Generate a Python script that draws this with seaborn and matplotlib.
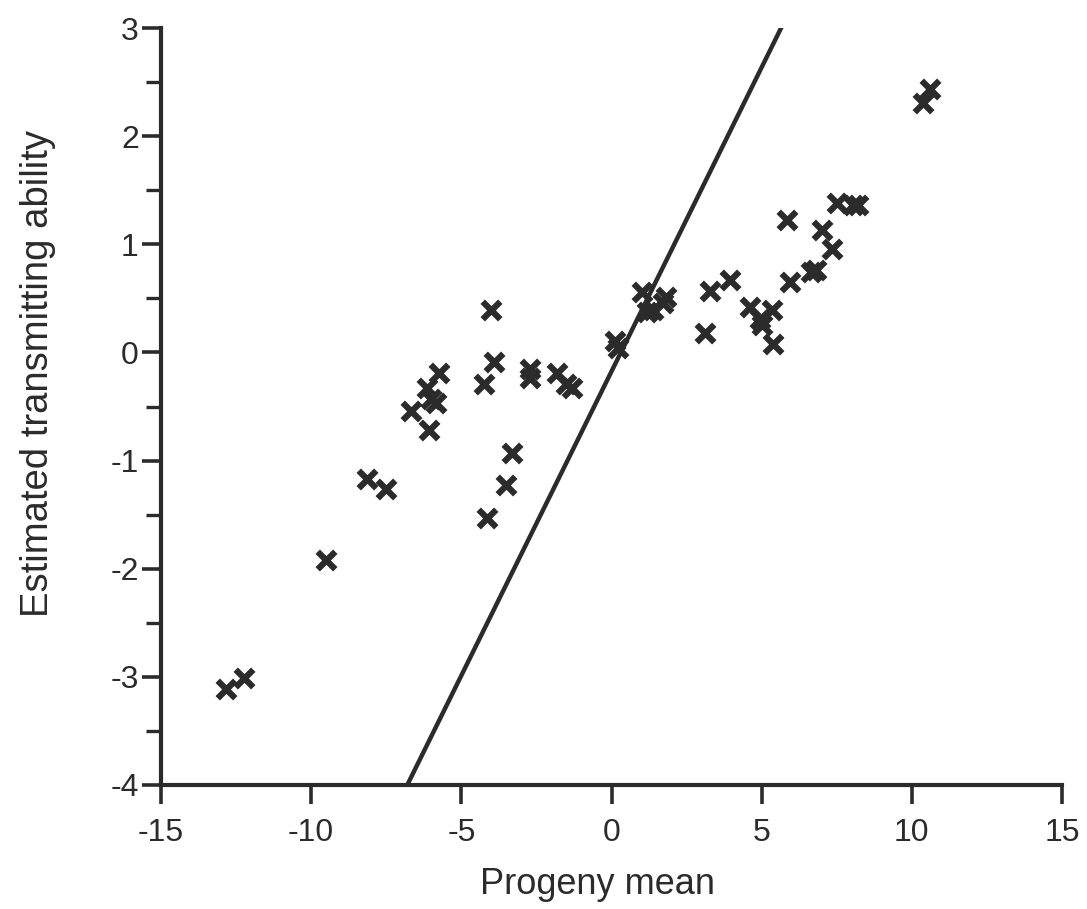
import matplotlib
matplotlib.use("Agg")
import matplotlib.pyplot as plt
from matplotlib.markers import MarkerStyle
from matplotlib.ticker import MultipleLocator
import seaborn as sns
import pandas as pd

# Data
progeny_mean = [-12.83, -12.23, -9.5, -8.13, -7.5, -6.67, -6.13, -6.0, -5.83, -5.73,
                -6.07, -4.23, -4.0, -3.9, -4.13, -3.5, -3.3, -2.73, -2.73, -1.8,
                -1.5, -1.33, 0.1, 0.2, 1.03, 1.17, 1.37, 1.73, 1.83, 3.1,
                3.27, 3.93, 4.6, 4.93, 5.0, 5.33, 5.37, 5.83, 5.93, 6.63,
                6.8, 7.0, 7.33, 7.5, 8.03, 8.2, 10.37, 10.6]
eta = [-3.11, -3.01, -1.92, -1.17, -1.26, -0.54, -0.33, -0.43, -0.47, -0.19,
       -0.72, -0.29, 0.39, -0.09, -1.53, -1.23, -0.93, -0.15, -0.24, -0.19,
       -0.29, -0.33, 0.11, 0.04, 0.56, 0.37, 0.39, 0.46, 0.51, 0.18,
       0.57, 0.67, 0.42, 0.31, 0.25, 0.39, 0.08, 1.22, 0.65, 0.74,
       0.76, 1.13, 0.96, 1.38, 1.36, 1.36, 2.31, 2.44]

line_x = [-6.8, 5.7]
line_y = [-4.0, 3.03]

x_ticks = [-15, -10, -5, 0, 5, 10, 15]
y_ticks = [-4, -3, -2, -1, 0, 1, 2, 3]

df = pd.DataFrame({"Progeny mean": progeny_mean,
                   "Estimated transmitting ability": eta})
df_line = pd.DataFrame({"x": line_x, "y": line_y})

sns.set_theme(style="ticks")
plt.rcParams["font.family"] = ["Liberation Sans", "DejaVu Sans"]

ink = "#2b2b2b"
fig = plt.figure(figsize=(10.87, 9.09), dpi=100)
ax = fig.add_axes([161 / 1087, 1 - 785 / 909, (1062 - 161) / 1087, (785 - 28) / 909])

sns.lineplot(data=df_line, x="x", y="y", ax=ax, color=ink, linewidth=3.2,
             solid_capstyle="round")

sns.scatterplot(data=df, x="Progeny mean", y="Estimated transmitting ability", ax=ax,
                marker=MarkerStyle("x", capstyle="round"), s=160, linewidths=4.5,
                color=ink, edgecolor=ink, zorder=3)

ax.set_xlim(-15, 15)
ax.set_ylim(-4, 3)
ax.set_xticks(x_ticks)
ax.set_yticks(y_ticks)
ax.yaxis.set_minor_locator(MultipleLocator(0.5))
ax.set_xticklabels([str(t) for t in x_ticks])
ax.set_yticklabels([str(t) for t in y_ticks])

for side in ["top", "right"]:
    ax.spines[side].set_visible(False)
for side in ["left", "bottom"]:
    ax.spines[side].set_linewidth(3.0)
    ax.spines[side].set_color(ink)

ax.tick_params(axis="both", which="major", length=14, width=2.6, color=ink,
               labelsize=23, labelcolor=ink, direction="out")
ax.tick_params(axis="x", which="major", pad=10)
ax.tick_params(axis="y", which="major", pad=2)
ax.tick_params(axis="y", which="minor", length=11, width=2.4, color=ink, direction="out")

ax.set_xlabel("Progeny mean", fontsize=26, color=ink)
ax.set_ylabel("Estimated transmitting ability", fontsize=27.5, color=ink)
ax.xaxis.set_label_coords(0.485, -0.108)
ax.yaxis.set_label_coords(-0.117, 0.543)

fig.savefig("out.png", dpi=100, facecolor="white")
